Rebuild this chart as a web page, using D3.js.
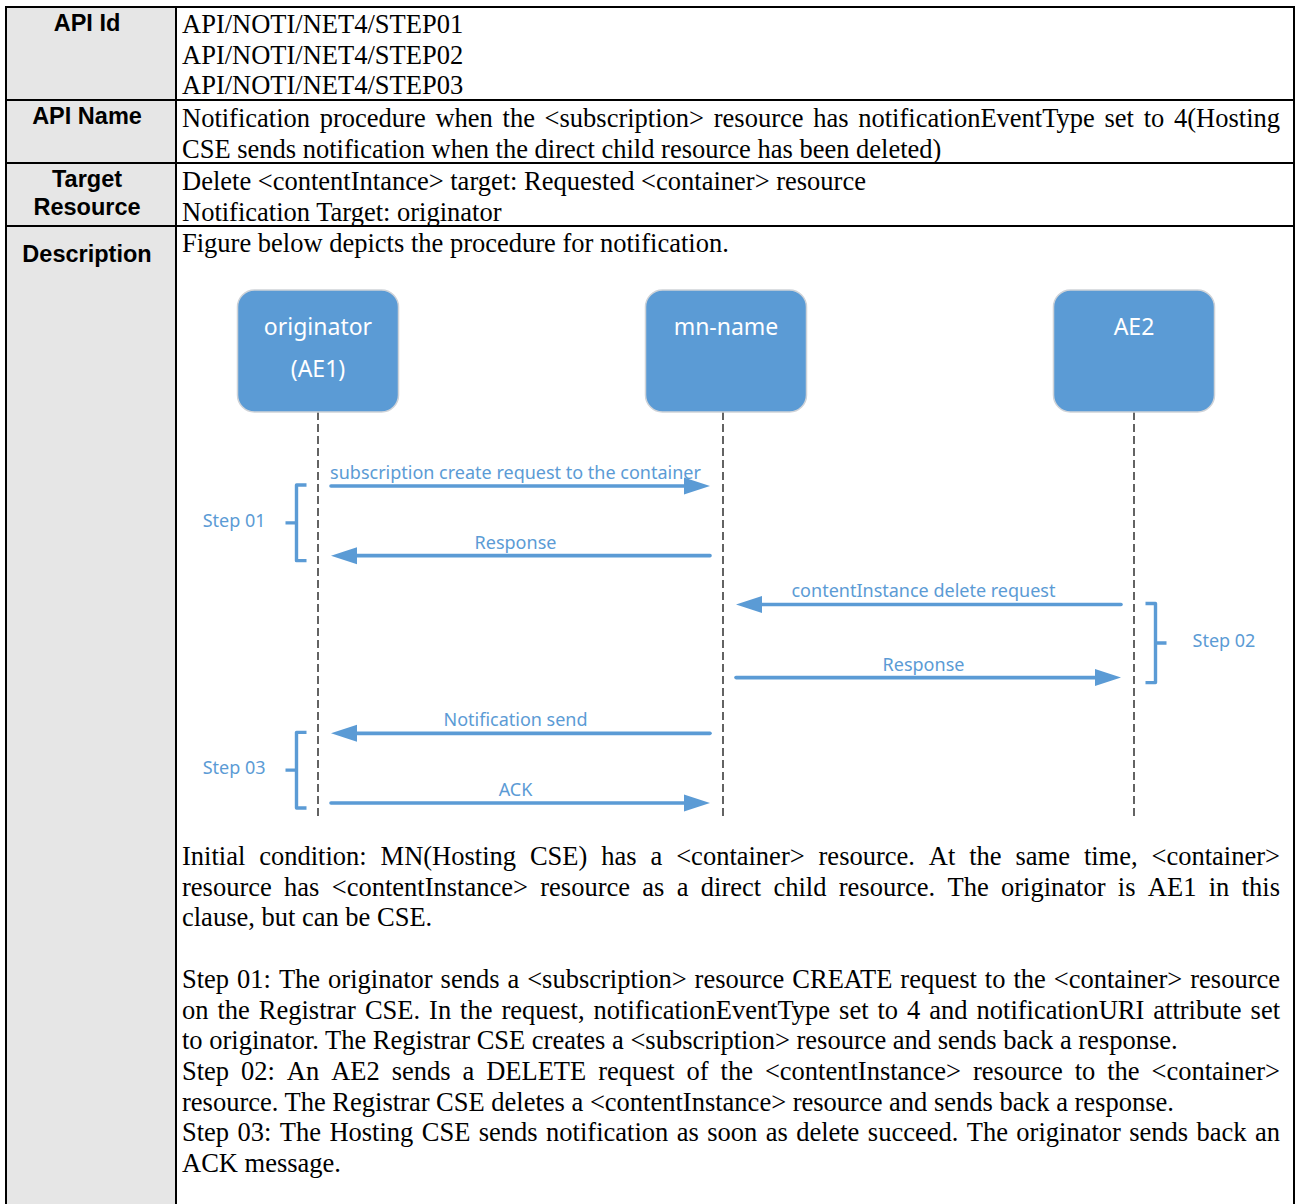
<!DOCTYPE html>
<html><head><meta charset="utf-8">
<script src="https://cdn.jsdelivr.net/npm/d3@7"></script>
<style>body{margin:0;background:#fff} svg{display:block}</style>
</head><body><svg id="c" width="1296" height="1204"></svg>
<script>
// ---------- data ----------
const rowLabels = [["API Id"], ["API Name"], ["Target", "Resource"], ["Description"]];
const apiIdLines = [
  {t: "API/NOTI/NET4/STEP01"}, {t: "API/NOTI/NET4/STEP02"}, {t: "API/NOTI/NET4/STEP03"}
];
const apiNameLines = [
  {t: "Notification procedure when the <subscription> resource has notificationEventType set to 4(Hosting", j: true},
  {t: "CSE sends notification when the direct child resource has been deleted)"}
];
const targetLines = [
  {t: "Delete <contentIntance> target: Requested <container> resource"},
  {t: "Notification Target: originator"}
];
const descIntro = [{t: "Figure below depicts the procedure for notification."}];
const descBody = [
  {t: "Initial condition: MN(Hosting CSE) has a <container> resource. At the same time, <container>", j: true},
  {t: "resource has <contentInstance> resource as a direct child resource. The originator is AE1 in this", j: true},
  {t: "clause, but can be CSE."},
  {t: ""},
  {t: "Step 01: The originator sends a <subscription> resource CREATE request to the <container> resource", j: true},
  {t: "on the Registrar CSE. In the request, notificationEventType set to 4 and notificationURI attribute set", j: true},
  {t: "to originator. The Registrar CSE creates a <subscription> resource and sends back a response."},
  {t: "Step 02: An AE2 sends a DELETE request of the <contentInstance> resource to the <container>", j: true},
  {t: "resource. The Registrar CSE deletes a <contentInstance> resource and sends back a response."},
  {t: "Step 03: The Hosting CSE sends notification as soon as delete succeed. The originator sends back an", j: true},
  {t: "ACK message."}
];
const participants = [
  {id: "orig", lines: ["originator", "(AE1)"]},
  {id: "mn", lines: ["mn-name"]},
  {id: "ae2", lines: ["AE2"]}
];
const messages = [
  {from: "orig", to: "mn", label: "subscription create request to the container", t: 0},
  {from: "mn", to: "orig", label: "Response", t: 1},
  {from: "ae2", to: "mn", label: "contentInstance delete request", t: 1.7},
  {from: "mn", to: "ae2", label: "Response", t: 2.75},
  {from: "mn", to: "orig", label: "Notification send", t: 3.55},
  {from: "orig", to: "mn", label: "ACK", t: 4.55}
];
const steps = [
  {label: "Step 01", first: 0, last: 1, lane: "orig", side: -1},
  {label: "Step 02", first: 2, last: 3, lane: "ae2", side: 1},
  {label: "Step 03", first: 4, last: 5, lane: "orig", side: -1}
];

// ---------- layout ----------
const L = {x0: 6, x1: 1294, col: 176, top: 7, textX: 182, textR: 1280, lh: 30.7};
const BLUE = "#5b9bd5";
const serif = "font-family:'Liberation Serif','Times New Roman',serif;font-size:26.5px;fill:#000";
const svg = d3.select("#c");

// background cells
svg.append("rect").attr("x", L.x0).attr("y", L.top).attr("width", L.col - L.x0).attr("height", 1215 - L.top).attr("fill", "#e6e6e6");

// text helpers
const meas = svg.append("text").attr("style", serif).attr("visibility", "hidden");
function wlen(s) { meas.text(s); return meas.node().getComputedTextLength(); }
function drawLines(lines, base) {
  const g = svg.append("g").attr("style", serif);
  lines.forEach((ln, i) => {
    if (!ln.t) return;
    const y = base + i * L.lh;
    if (!ln.j) { g.append("text").attr("x", L.textX).attr("y", y).text(ln.t); return; }
    const words = ln.t.split(" ");
    const ws = words.map(wlen);
    const gap = (L.textR - L.textX - d3.sum(ws)) / (words.length - 1);
    let x = L.textX;
    words.forEach((w, k) => { g.append("text").attr("x", x).attr("y", y).text(w); x += ws[k] + gap; });
  });
}
drawLines(apiIdLines, 33);
drawLines(apiNameLines, 127);
drawLines(targetLines, 190);
drawLines(descIntro, 252);
drawLines(descBody, 865);

// row labels
const labelBase = [[30.5], [123.5], [186.5, 214.5], [261.5]];
rowLabels.forEach((ls, r) => ls.forEach((s, k) => {
  svg.append("text").attr("x", 87).attr("y", labelBase[r][k]).attr("text-anchor", "middle")
    .attr("style", "font-family:'Liberation Sans',Arial,sans-serif;font-weight:bold;font-size:23.5px;fill:#000").text(s);
}));

// grid lines
const grid = svg.append("g").attr("stroke", "#000").attr("stroke-width", 2).attr("fill", "none");
grid.append("rect").attr("x", L.x0).attr("y", L.top).attr("width", L.x1 - L.x0).attr("height", 1215);
grid.append("line").attr("x1", L.col).attr("x2", L.col).attr("y1", L.top).attr("y2", 1215);
[100, 163, 226].forEach(y => grid.append("line").attr("x1", L.x0).attr("x2", L.x1).attr("y1", y).attr("y2", y));

// ---------- sequence diagram ----------
const x = d3.scalePoint().domain(participants.map(d => d.id)).range([318, 1134]);
const y = d3.scaleLinear().domain([0, 4.55]).range([486, 803]);
const lifeX = d => x(d) + (d === "mn" ? -3 : 0);
const diag = svg.append("g");
const sans = "font-family:'Noto Sans','Open Sans',sans-serif;";

// lifelines
diag.selectAll("line.life").data(participants).join("line")
  .attr("x1", d => lifeX(d.id)).attr("x2", d => lifeX(d.id)).attr("y1", 412).attr("y2", 820)
  .attr("stroke", "#222").attr("stroke-width", 1.4).attr("stroke-dasharray", "8,4");

// boxes
const bw = 161, bh = 122, by = 290;
const box = diag.selectAll("g.box").data(participants).join("g");
box.append("rect").attr("x", d => x(d.id) - bw / 2).attr("y", by).attr("width", bw).attr("height", bh)
  .attr("rx", 17).attr("fill", BLUE).attr("stroke", "#cfd3d8").attr("stroke-width", 1.5);
box.each(function (d) {
  d3.select(this).selectAll("text").data(d.lines).join("text")
    .attr("x", x(d.id)).attr("y", (s, i) => 335 + i * 42).attr("text-anchor", "middle")
    .attr("style", sans + "font-size:23px;fill:#fff").text(s => s);
});

// messages
const head = 26, hw = 8.5;
messages.forEach(m => {
  const dir = lifeX(m.to) > lifeX(m.from) ? 1 : -1;
  const xs = lifeX(m.from) + dir * 13, xt = lifeX(m.to) - dir * 13, yy = y(m.t);
  diag.append("line").attr("x1", xs).attr("x2", xt - dir * (head - 4)).attr("y1", yy).attr("y2", yy)
    .attr("stroke", BLUE).attr("stroke-width", 3.6).attr("stroke-linecap", "round");
  diag.append("path").attr("d", `M${xt},${yy} L${xt - dir * head},${yy - hw} L${xt - dir * head},${yy + hw} Z`).attr("fill", BLUE);
  diag.append("text").attr("x", (lifeX(m.from) + lifeX(m.to)) / 2 - 5).attr("y", yy - 7).attr("text-anchor", "middle")
    .attr("style", sans + "font-size:18px;fill:" + BLUE).text(m.label);
});

// step brackets
steps.forEach(s => {
  const y1 = y(messages[s.first].t) - 1, y2 = y(messages[s.last].t) + 5, ym = (y1 + y2) / 2;
  const bx = x(s.lane) + s.side * 21.5, sx = bx - s.side * 10, tx = bx + s.side * 11;
  diag.append("path").attr("d", `M${sx},${y1} L${bx},${y1} L${bx},${y2} L${sx},${y2} M${bx},${ym} L${tx},${ym}`)
    .attr("fill", "none").attr("stroke", BLUE).attr("stroke-width", 3.4).attr("stroke-linejoin", "round");
  diag.append("text").attr("x", s.side < 0 ? tx - 20 : tx + 26).attr("y", ym + 4)
    .attr("text-anchor", s.side < 0 ? "end" : "start")
    .attr("style", sans + "font-size:18px;fill:" + BLUE).text(s.label);
});
</script></body></html>
